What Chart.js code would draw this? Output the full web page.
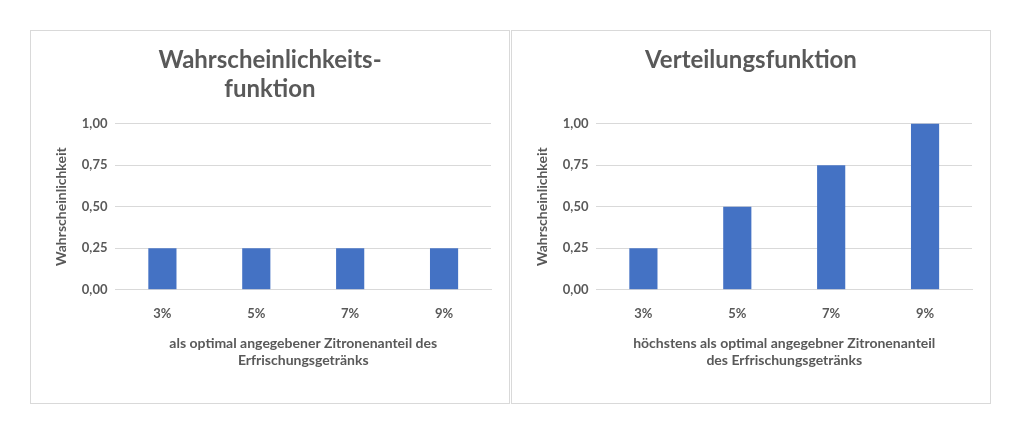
<!DOCTYPE html>
<html><head><meta charset="utf-8">
<script src="https://cdn.jsdelivr.net/npm/chart.js@4"></script>
<style>
body{margin:0;background:#fff;width:1024px;height:438px;position:relative;font-family:Lato}
.box{position:absolute;top:30px;width:480px;height:374px;border:1px solid #d9d9d9;box-sizing:border-box}
</style></head><body>
<div class="box" style="left:30px"><canvas id="c1"></canvas></div>
<div class="box" style="left:511px"><canvas id="c2"></canvas></div>
<script>
const categories=["3%","5%","7%","9%"];
const pmf=[0.25,0.25,0.25,0.25];
const cdf=[0.25,0.5,0.75,1.0];
const yTicks=[0,0.25,0.5,0.75,1];
const grey='#595959';
function mk(id,data,title,xtitle){
 new Chart(document.getElementById(id),{type:'bar',
  data:{labels:categories,datasets:[{data:data,backgroundColor:'#4472c4',barPercentage:0.3,categoryPercentage:1}]},
  options:{responsive:false,animation:false,devicePixelRatio:1,
   layout:{padding:{left:18,right:18,top:4,bottom:30}},
   plugins:{legend:{display:false},tooltip:{enabled:false},
    title:{display:true,text:title,color:grey,font:{family:'Lato',size:24,weight:'bold'},padding:{top:11,bottom:20},lineHeight:1.65}},
   scales:{
    y:{min:0,max:1,afterBuildTicks:a=>{a.ticks=yTicks.map(v=>({value:v}))},
     ticks:{color:grey,font:{family:'Lato',size:13,weight:'bold'},padding:8,callback:v=>v.toFixed(2).replace('.',',')},
     grid:{color:'#d9d9d9',drawTicks:false},border:{display:false},
     title:{display:true,text:'Wahrscheinlichkeit',color:grey,font:{family:'Lato',size:14,weight:'bold'}}},
    x:{ticks:{color:grey,font:{family:'Lato',size:13,weight:'bold'},padding:8},
     grid:{display:false},border:{color:'#d9d9d9'},
     title:{display:true,text:xtitle,color:grey,font:{family:'Lato',size:14,weight:'bold'},lineHeight:1.5,padding:{top:6}}}
   }}});
}
for(const id of ['c1','c2']){const c=document.getElementById(id);c.width=478;c.height=372;}
mk('c1',pmf,['Wahrscheinlichkeits-','funktion'],['als optimal angegebener Zitronenanteil des','Erfrischungsgetränks']);
mk('c2',cdf,['Verteilungsfunktion',''],['höchstens als optimal angegebner Zitronenanteil','des Erfrischungsgetränks']);
</script></body></html>
